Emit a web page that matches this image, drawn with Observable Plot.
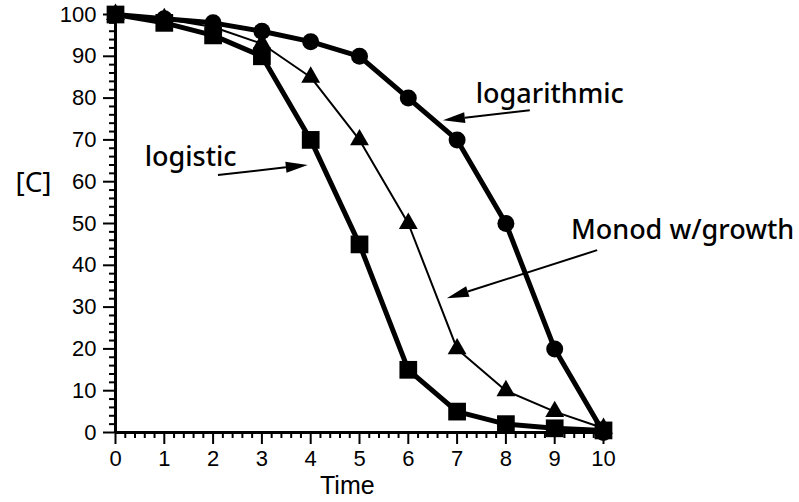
<!DOCTYPE html>
<html>
<head>
<meta charset="utf-8">
<script src="https://cdn.jsdelivr.net/npm/d3@7"></script>
<script src="https://cdn.jsdelivr.net/npm/@observablehq/plot@0.6"></script>
<style>
  html, body { margin: 0; padding: 0; background: #fff; }
</style>
</head>
<body>
<div id="chart"></div>
<script>
const time = [0, 1, 2, 3, 4, 5, 6, 7, 8, 9, 10];
const logarithmic = [100, 99, 98, 96, 93.5, 90, 80, 70, 50, 20, 0];
const logistic = [100, 98, 95, 90, 70, 45, 15, 5, 2, 1, 0.5];
const monod = [100, 99, 97, 93, 85, 70, 50, 20, 10, 5, 1];

const xTicks = d3.range(0, 11, 1);
const yTicks = d3.range(0, 101, 10);
const xMinor = d3.range(0, 10.01, 0.2).map(v => +v.toFixed(1)).filter(v => !Number.isInteger(v));
const yMinor = d3.range(0, 101, 2).filter(v => v % 10 !== 0);

// annotations: label text + positions (data units), arrows (from -> to)
const labels = [
  {text: "logistic", x: 1.54, y: 65.8},
  {text: "logarithmic", x: 8.9, y: 80.9},
  {text: "Monod w/growth", x: 11.62, y: 48.3}
];
const arrows = [
  {x1: 2.11, y1: 61.5, x2: 3.95, y2: 63.9},
  {x1: 8.5, y1: 77.0, x2: 6.72, y2: 74.6},
  {x1: 9.88, y1: 43.5, x2: 6.8, y2: 32.0}
];

const rows = (vals, name) => time.map((t, i) => ({t, v: vals[i], name}));
const dLog = rows(logarithmic, "logarithmic");
const dLgs = rows(logistic, "logistic");
const dMon = rows(monod, "monod");

function arrowMark(index, scales) {
  const g = d3.create("svg:g");
  for (const a of arrows) {
    const x1 = scales.x(a.x1), y1 = scales.y(a.y1);
    const x2 = scales.x(a.x2), y2 = scales.y(a.y2);
    const ang = Math.atan2(y2 - y1, x2 - x1);
    const L = 22, W = 5.5;
    const bx = x2 - L * Math.cos(ang), by = y2 - L * Math.sin(ang);
    g.append("line").attr("x1", x1).attr("y1", y1).attr("x2", bx).attr("y2", by)
      .attr("stroke", "black").attr("stroke-width", 2);
    const px = -Math.sin(ang) * W, py = Math.cos(ang) * W;
    g.append("polygon")
      .attr("points", `${x2},${y2} ${bx + px},${by + py} ${bx - px},${by - py}`)
      .attr("fill", "black");
  }
  return g.node();
}

const plot = Plot.plot({
  width: 799,
  height: 502,
  marginLeft: 115,
  marginRight: 196,
  marginTop: 14,
  marginBottom: 70,
  style: {fontFamily: "Liberation Sans, Arial, sans-serif", fontSize: "22px", background: "white", overflow: "visible", color: "black"},
  x: {domain: [0, 10]},
  y: {domain: [0, 100]},
  marks: [
    Plot.axisX({ticks: xMinor, tickSize: 6, strokeWidth: 2, tickFormat: () => "", label: null}),
    Plot.axisY({ticks: yMinor, tickSize: 6, strokeWidth: 2, tickFormat: () => "", label: null}),
    Plot.axisX({ticks: xTicks, tickSize: 12, strokeWidth: 2, tickPadding: 6, fontSize: 22, label: null, fill: "black"}),
    Plot.axisY({ticks: yTicks, tickSize: 12, strokeWidth: 2, tickPadding: 7, fontSize: 22, label: null, fill: "black"}),
    Plot.ruleX([0], {strokeWidth: 3}),
    Plot.ruleY([0], {strokeWidth: 3}),
    Plot.line(dMon, {x: "t", y: "v", stroke: "black", strokeWidth: 2}),
    Plot.line(dLog, {x: "t", y: "v", stroke: "black", strokeWidth: 5}),
    Plot.line(dLgs, {x: "t", y: "v", stroke: "black", strokeWidth: 5}),
    Plot.dot(dMon, {x: "t", y: "v", symbol: "triangle", r: 7, fill: "black"}),
    Plot.dot(dLog, {x: "t", y: "v", symbol: "circle", r: 8.5, fill: "black"}),
    Plot.dot(dLgs, {x: "t", y: "v", symbol: "square", r: 10, fill: "black"}),
    arrowMark,
    Plot.text(labels, {x: "x", y: "y", text: "text", fontSize: 27, fontFamily: "Noto Sans", fontWeight: 500, fill: "black", textAnchor: "middle"}),
    Plot.text(["Time"], {x: 4.75, y: -12.8, text: d => d, fontSize: 25, fill: "black"}),
    Plot.text(["[C]"], {x: -1.68, y: 59.6, text: d => d, fontSize: 28, fontFamily: "Noto Sans", fill: "black"})
  ]
});
document.getElementById("chart").appendChild(plot);
</script>
</body>
</html>
